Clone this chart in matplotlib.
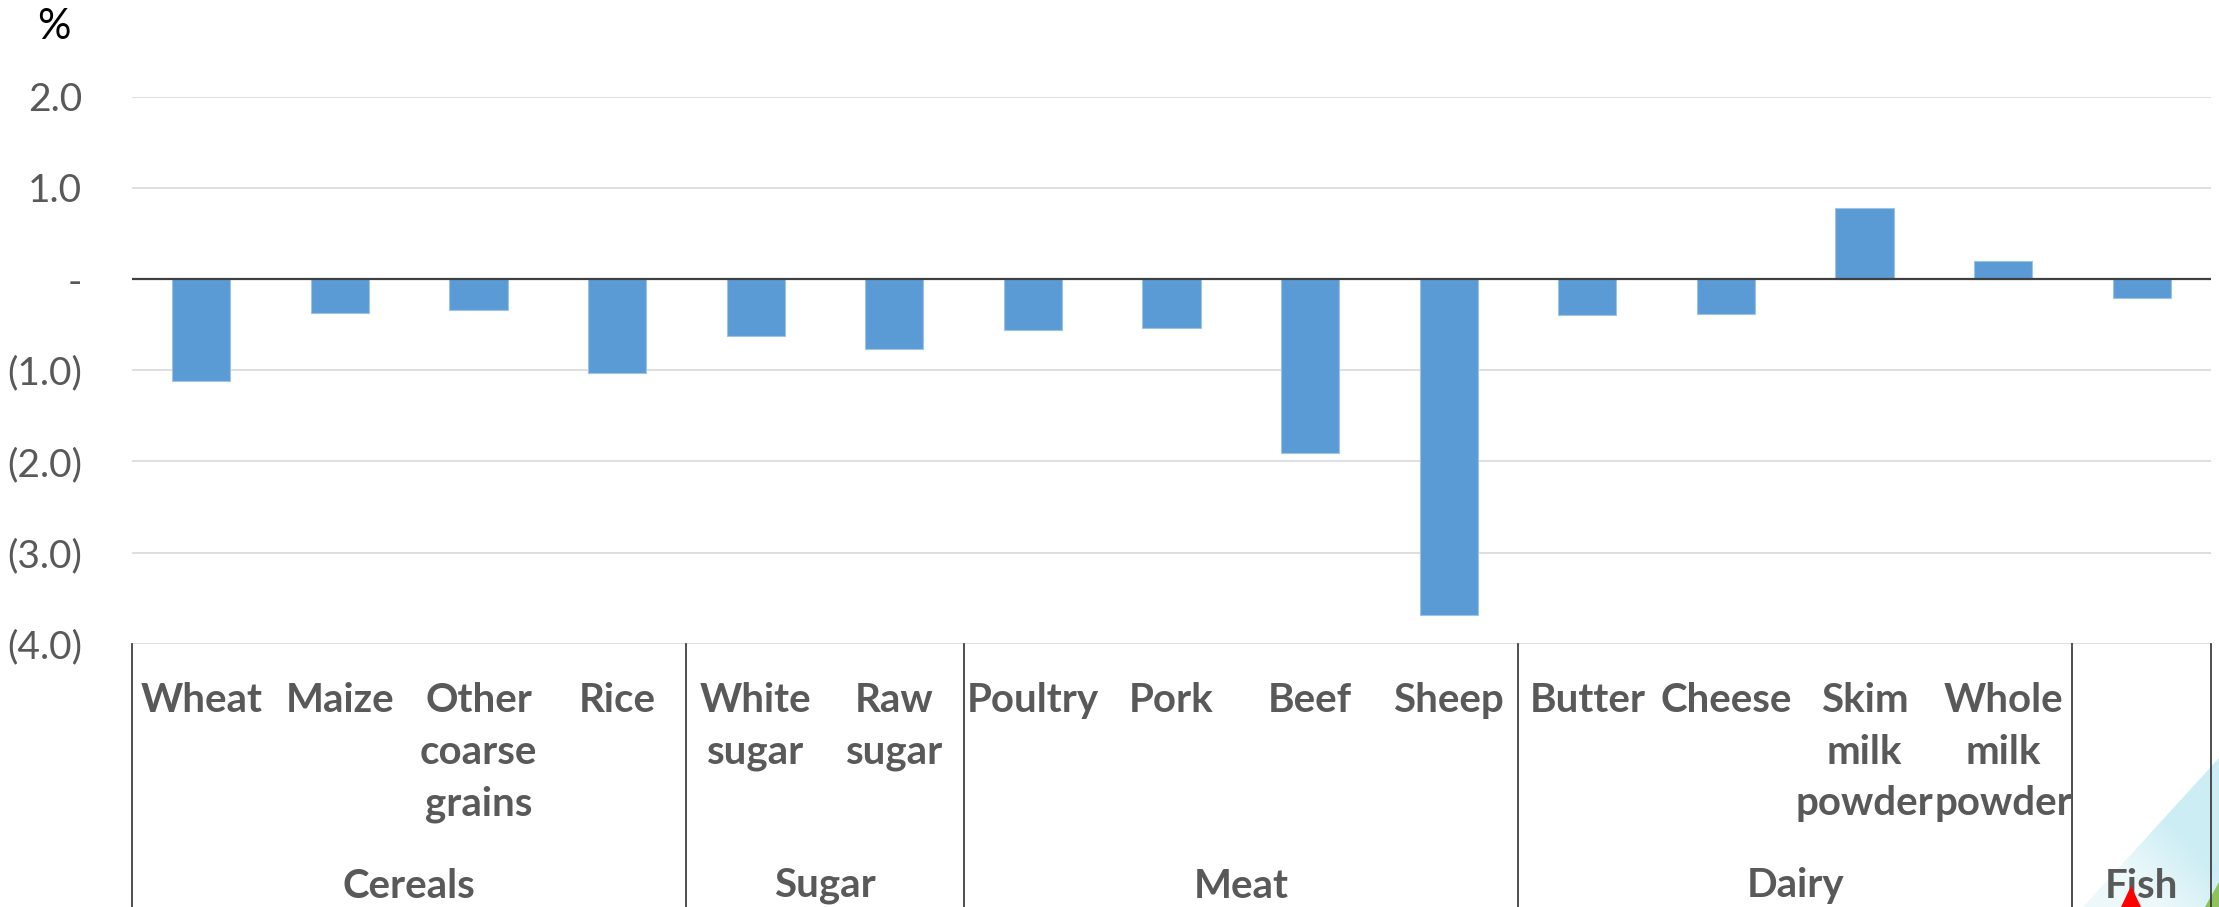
import matplotlib
matplotlib.use("Agg")
import matplotlib.pyplot as plt
import matplotlib.transforms as mtransforms
from matplotlib.lines import Line2D
from matplotlib.patches import Polygon
import numpy as np

# ---- data -------------------------------------------------------------
items = ["Wheat", "Maize", "Other\ncoarse\ngrains", "Rice",
         "White\nsugar", "Raw\nsugar",
         "Poultry", "Pork", "Beef", "Sheep",
         "Butter", "Cheese", "Skim\nmilk\npowder", "Whole\nmilk\npowder",
         ""]
values = [-1.12, -0.37, -0.34, -1.03,
          -0.63, -0.77,
          -0.56, -0.54, -1.91, -3.68,
          -0.40, -0.38, 0.78, 0.20,
          -0.21]
groups = ["Cereals", "Sugar", "Meat", "Dairy", "Fish"]
group_sizes = [4, 2, 4, 4, 1]
yticks = [-4, -3, -2, -1, 0, 1, 2]
ytick_labels = ["(4.0)", "(3.0)", "(2.0)", "(1.0)", "-", "1.0", "2.0"]

# ---- layout (pixels of a 2219 x 907 canvas) ---------------------------
W, H = 2219, 907
left_px, right_px = 132, 2211
top_px, bottom_px = 96.7, 643.7

BAR = "#5B9BD5"
GRID = "#D9D9D9"
TXT = "#595959"
FONT = "Lato"

fig = plt.figure(figsize=(W / 100, H / 100), dpi=100)
fig.patch.set_facecolor("white")
ax = fig.add_axes([left_px / W, 1 - bottom_px / H,
                   (right_px - left_px) / W, (bottom_px - top_px) / H])

n = len(values)
x = np.arange(n) + 0.5
ax.bar(x, values, width=0.42, color=BAR, edgecolor="#9DC3E6",
       linewidth=0.8, zorder=3)

ax.set_xlim(0, n)
ax.set_ylim(-4, 2)
ax.set_yticks(yticks)
ax.set_yticklabels(ytick_labels, fontsize=28, color=TXT, family=FONT)
ax.set_xticks([])
ax.tick_params(axis="y", length=0, pad=36)
for s in ax.spines.values():
    s.set_visible(False)

for t in yticks:
    if t != 0:
        ax.axhline(t, color=GRID, lw=1.2, zorder=1)
ax.axhline(0, color="#404040", lw=1.6, zorder=4)

# ---- percent unit label ----------------------------------------------
fig.text(54 / W, 1 - 27 / H, "%", fontsize=30, color="black",
         family=FONT, ha="center", va="center")

# ---- multi-level category axis ----------------------------------------
blend = mtransforms.blended_transform_factory(ax.transData, fig.transFigure)
y_axis = 1 - bottom_px / H

for xi, lab in zip(x, items):
    if lab:
        fig.text(xi, 1 - 682 / H, lab, transform=blend, ha="center",
                 va="top", fontsize=29, fontweight="bold", color=TXT,
                 family=FONT, linespacing=1.49, multialignment="center")

edges = np.concatenate([[0], np.cumsum(group_sizes)])
for e in edges:
    fig.add_artist(Line2D([e, e], [y_axis, 0], transform=blend,
                          color="#404040", lw=1.3))
for g, a, b in zip(groups, edges[:-1], edges[1:]):
    fig.text((a + b) / 2, 1 - 886 / H, g, transform=blend, ha="center",
             va="center", fontsize=29, fontweight="bold", color=TXT,
             family=FONT)

# ---- slide background peeking in at the bottom-right corner -----------
def fp(pts):
    return [(u / W, 1 - v / H) for u, v in pts]

ax_bg = fig.add_axes([2083 / W, 0, (W - 2083) / W, (907 - 758) / H],
                     zorder=-1)
gx, gy = np.meshgrid(np.linspace(0, 1, 200), np.linspace(0, 1, 200))
shade = np.clip((gx + (1 - gy)) - 0.55, 0, 1) / 1.45
rgba = np.zeros((200, 200, 4))
rgba[..., 0] = 0.80
rgba[..., 1] = 0.93
rgba[..., 2] = 0.96
rgba[..., 3] = np.clip(0.35 + shade * 1.4, 0, 1)
ax_bg.imshow(rgba, extent=(0, 1, 0, 1), aspect="auto", origin="upper",
             clip_path=Polygon([(0, 0), (1, 1), (1, 0)], closed=True,
                               transform=ax_bg.transAxes))
ax_bg.set_axis_off()

fig.add_artist(Polygon(fp([(2205, 907), (2219, 882), (2219, 907)]),
                       closed=True, transform=fig.transFigure,
                       facecolor="#8CC35C", edgecolor="none", zorder=0))
fig.add_artist(Polygon(fp([(2121, 907), (2131, 886), (2141, 907)]),
                       closed=True, transform=fig.transFigure,
                       facecolor="#FF0000", edgecolor="none", zorder=10))

fig.savefig("out.png", dpi=100, facecolor="white")
